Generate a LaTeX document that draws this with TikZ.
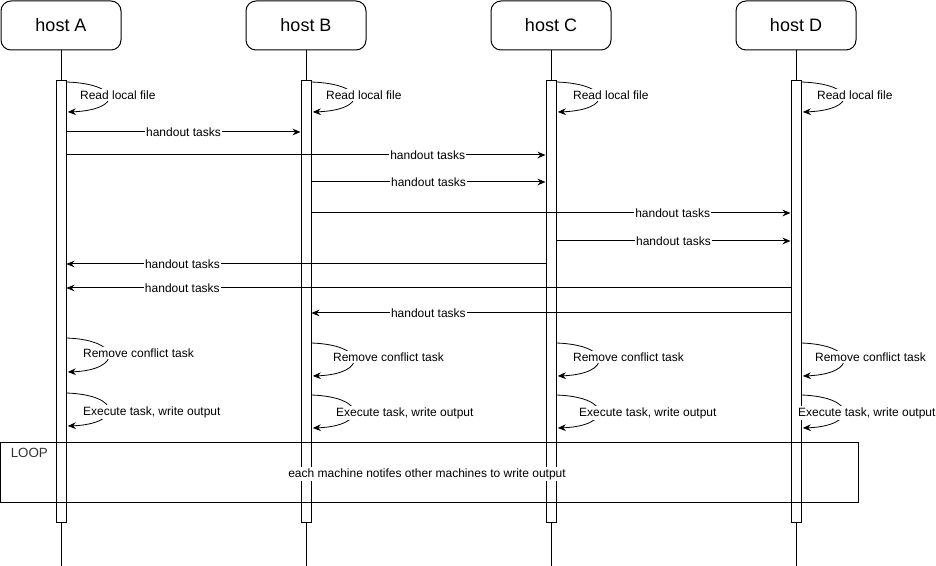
\documentclass[tikz,border=0pt]{standalone}
\usepackage{fontspec}
\setmainfont{Liberation Sans}
\usetikzlibrary{positioning}
\usetikzlibrary{arrows.meta,calc}
\tikzstyle{host}=[rectangle,rounded corners=7.5pt,draw,line width=0.75pt,minimum width=90pt,minimum height=36.75pt,inner sep=0pt,font=\fontsize{13.5}{16}\selectfont]
\tikzstyle{bar}=[rectangle,draw,fill=white,line width=0.75pt,minimum width=7.5pt,minimum height=331.5pt,inner sep=0pt]
\tikzstyle{lifeline} = [draw,line width=0.75pt]
\tikzstyle{msg} = [draw,line width=0.75pt,-{Stealth[length=6pt,width=5pt]}]
\tikzstyle{selfcall} = [draw,line width=0.6pt,-{Stealth[length=6pt,width=5pt]}]
\tikzstyle{weight} = [font=\fontsize{9}{11}\selectfont,fill=white,inner sep=1pt]
\tikzstyle{note} = [font=\fontsize{9}{11}\selectfont,fill=white,inner sep=1pt,anchor=west]
\tikzstyle{frame} = [rectangle,draw,line width=0.75pt,minimum width=643.5pt,minimum height=45pt,inner sep=0pt]

\begin{document}
\begin{tikzpicture}[x=0.75pt,y=-0.75pt]

  \useasboundingbox (0,0) rectangle (936,566);

  % hosts, lifelines and activation bars
  \foreach \x/\name/\label in {61/A/host A, 306/B/host B, 551/C/host C, 796/D/host D}
  {
    \node[host] (\name) at (\x,25.5) {\label};
    \coordinate (end\name) at (\x,566);
    \path[lifeline] (\name.south) -- (end\name);
    \node[bar] (bar\name) at (\x,302) {};
  }

  % self calls
  \foreach \b/\ys/\ye/\dx/\ly/\txt in {A/82/112/12/95/Read local file, B/82/112/13/95/Read local file,
      C/82/112/15/95/Read local file, D/82/112/14/95/Read local file,
      A/338/372/15/353/Remove conflict task, B/343/376/20/357/Remove conflict task,
      C/343/376/15/357/Remove conflict task, D/343/376/12/357/Remove conflict task,
      A/393/426/15/412/{Execute task, write output}, B/395/428/23/413/{Execute task, write output},
      C/395/428/21/413/{Execute task, write output}, D/395/428/-5/413/{Execute task, write output}}
  {
    \path[selfcall] (bar\b.east |- 0,\ys) .. controls +(56,2) and +(54,-2) .. ([xshift=1pt]bar\b.east |- 0,\ye);
    \node[note] (note\b\ys) at ($(bar\b.east |- 0,\ly)+(\dx,0)$) {\txt};
  }

  % handout tasks to the right
  \foreach \source/\dest/\y/\p in {A/B/132/0.5, A/C/155/0.754, B/C/182/0.5, B/D/213/0.754, C/D/241/0.5}
         \path[msg] (bar\source.east |- 0,\y) -- node[weight,pos=\p] {handout tasks} (bar\dest.west |- 0,\y);

  % handout tasks to the left
  \foreach \source/\dest/\y/\p in {C/A/264/0.758, D/A/288/0.84, D/B/313/0.756}
         \path[msg] (bar\source.west |- 0,\y) -- node[weight,pos=\p] {handout tasks} (bar\dest.east |- 0,\y);

  % loop frame
  \node[frame] (loop) at (429,473) {};
  \node[anchor=west,font=\fontsize{10}{12}\selectfont,text=black!80,inner sep=0pt] (looptag) at ($(loop.north west)+(11,10)$) {LOOP};
  \node[weight] (loopnote) at (427,474) {each machine notifes other machines to write output};

\end{tikzpicture}
\end{document}
